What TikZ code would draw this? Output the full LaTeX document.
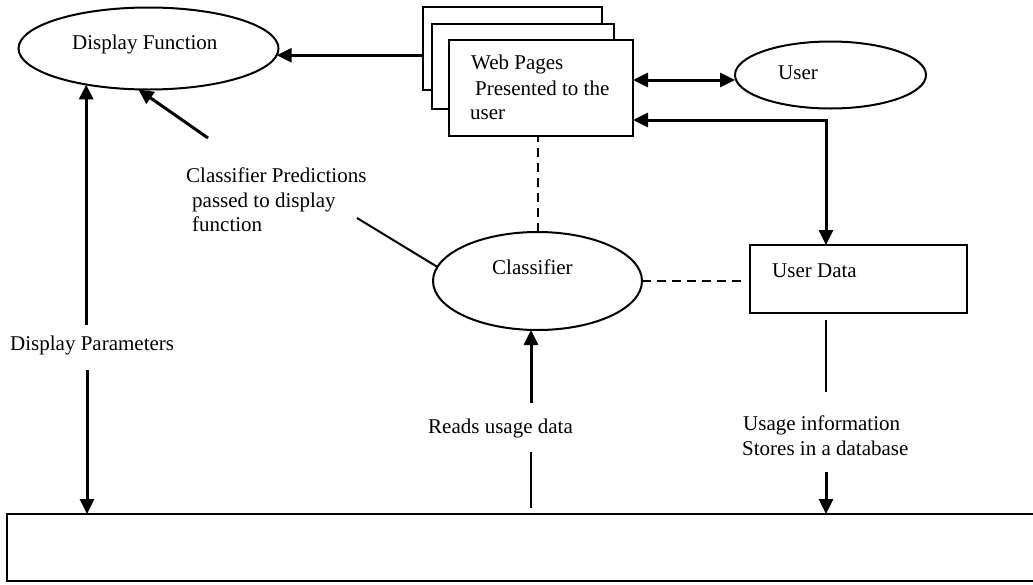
\documentclass[tikz,border=0pt]{standalone}
\usepackage{fontspec}
\setmainfont{Liberation Serif}
\usetikzlibrary{arrows.meta,shapes.geometric,calc}
\begin{document}
\begin{tikzpicture}[x=1pt,y=-1pt,
  outline/.style={draw, line width=2pt, inner sep=0pt, outer sep=0pt},
  oval/.style={outline, ellipse},
  box/.style={outline, rectangle, fill=white, anchor=north west},
  lbl/.style={anchor=base west, inner sep=0pt, font=\fontsize{21}{25}\selectfont},
  arr/.style={line width=3pt, -{Triangle[length=15pt,width=14pt]}},
  arrboth/.style={line width=3pt, {Triangle[length=15pt,width=14pt]}-{Triangle[length=15pt,width=14pt]}},
  link/.style={line width=2pt},
  dashlink/.style={line width=2pt, dash pattern=on 9pt off 6pt},
]
\useasboundingbox (0,0) rectangle (1033,584);

% ovals
\node[oval, minimum width=260pt, minimum height=82pt] (df) at (148.5,48.5) {};
\node[oval, minimum width=191pt, minimum height=67pt] (user) at (830.5,75) {};
\node[oval, minimum width=209pt, minimum height=98pt] (cl) at (537.5,281) {};

% stack of web pages
\node[box, minimum width=179pt, minimum height=83pt] (back) at (423,7) {};
\node[box, minimum width=182pt, minimum height=85pt] (mid) at (432,24) {};
\node[box, minimum width=184pt, minimum height=96pt] (front) at (449,40) {};

% user data store and the database strip
\node[box, minimum width=217pt, minimum height=68pt] (ud) at (750,245) {};
\node[anchor=north west, inner sep=0pt, outer sep=0pt,
      minimum width=1030pt, minimum height=67pt] (db) at (7,514) {};
\draw[link] (db.north east) -- (db.north west) -- (db.south west) -- (db.south east);

% labels
\node[lbl] (dftxt) at (72,49) {Display Function};
\node[lbl] (wp1) at (471,69) {Web Pages};
\node[lbl] (wp2) at (475,95) {Presented to the};
\node[lbl] (wp3) at (470,119) {user};
\node[lbl] (usertxt) at (778,79) {User};
\node[lbl] (cltxt) at (492,274) {Classifier};
\node[lbl] (udtxt) at (772,277) {User Data};
\node[lbl] (cp1) at (186,182) {Classifier Predictions};
\node[lbl] (cp2) at (192,207) {passed to display};
\node[lbl] (cp3) at (192,231) {function};
\node[lbl] (dptxt) at (10,350) {Display Parameters};
\node[lbl] (rutxt) at (428,433) {Reads usage data};
\node[lbl] (us1) at (743,430) {Usage information};
\node[lbl] (us2) at (742,455) {Stores in a database};

% connector end points
\coordinate (cpa) at (208,138);
\coordinate (cpb) at (357,218);
\coordinate (dpa) at (87,325);
\coordinate (dpb) at (87,370);
\coordinate (rua) at (531,403);
\coordinate (rub) at (531,452);
\coordinate (udin) at ([xshift=76pt]ud.north west);
\coordinate (usa) at (826,392);
\coordinate (usb) at (826,472);
\coordinate (wpu) at ([yshift=8pt]front.east);
\coordinate (wpd) at ([yshift=-32pt]front.east);

% pages -> display function
\draw[arr] (back.west |- df.-3.4) -- (df.-3.4);
% classifier predictions -> display function
\draw[arr] (cpa) -- (df.256);
\draw[link] (cpb) -- (cl.172);
% display parameters
\draw[arr] (df.210.5 |- dpa) -- (df.210.5);
\draw[arr] (dpb) -- (dpb |- db.north);
% pages <-> user
\draw[arrboth] (wpu) -- (user.west |- wpu);
% pages <-> user data
\draw[arrboth] (wpd) -| (udin);
% dashed associations
\draw[dashlink] (cl.north) -- (cl.north |- front.south);
\draw[dashlink, shorten >=5pt] (cl.east) -- (cl.east -| ud.west);
% reads usage data
\draw[arr] (rua) -- (rua |- cl.south);
\draw[link, shorten >=6pt] (rub) -- (rub |- db.north);
% usage information stored
\draw[link, shorten <=7pt] (udin |- ud.south) -- (usa);
\draw[arr] (usb) -- (usb |- db.north);
\end{tikzpicture}
\end{document}
